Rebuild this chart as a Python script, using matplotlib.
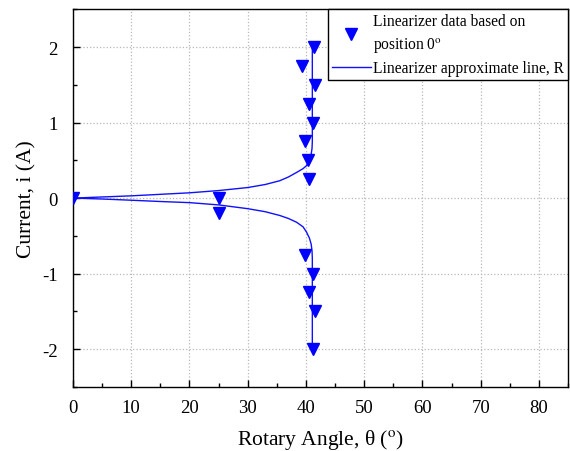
import matplotlib
matplotlib.use("Agg")
import matplotlib.pyplot as plt
from matplotlib.ticker import MultipleLocator

plt.rcParams['font.family'] = ['Liberation Serif', 'DejaVu Serif']
plt.rcParams['mathtext.fontset'] = 'stix'
plt.rcParams['axes.unicode_minus'] = False

# Measured data (rotary angle in degrees, current in A)
data_angle = [0, 25, 25, 39.3, 41.4, 41.5, 40.5, 41.2, 39.9, 40.4, 40.5,
              39.9, 41.2, 40.5, 41.5, 41.3]
data_current = [0, 0, -0.2, 1.75, 2.0, 1.5, 1.25, 1.0, 0.75, 0.5, 0.25,
                -0.75, -1.0, -1.25, -1.5, -2.0]

# Approximate line, upper branch and lower branch
upper_angle = [0, 5, 10, 15, 20, 25, 30, 33, 35.5, 37, 38.4, 39.5, 40.1, 40.6, 40.9, 41.05, 41.1, 41.1]
upper_current = [0, 0.015, 0.03, 0.05, 0.07, 0.1, 0.14, 0.18, 0.23, 0.28, 0.34, 0.39, 0.43, 0.5, 0.58, 0.66, 0.75, 2.0]
lower_angle = [0, 5, 10, 15, 20, 25, 30, 33, 35.5, 37, 38.4, 39.5, 40.1, 40.6, 40.9, 41.05, 41.1, 41.1]
lower_current = [0, -0.012, -0.028, -0.045, -0.06, -0.09, -0.14, -0.18, -0.23, -0.27, -0.32, -0.38, -0.45, -0.53, -0.61, -0.7, -0.8, -2.0]

fig = plt.figure(figsize=(5.7, 4.52), dpi=100)
ax = fig.add_axes([0.128, 0.142, 0.8685, 0.835])

line_kw = dict(color='#1010ff', lw=1.0)
ax.plot(upper_angle, upper_current, label='Linearizer approximate line, R', zorder=2, **line_kw)
ax.plot(lower_angle, lower_current, zorder=2, **line_kw)
ax.plot(data_angle, data_current, linestyle='none', marker='v', markersize=8,
        color='#0000ff', label='Linearizer data based on\nposition 0$^{\\mathrm{o}}$', zorder=3)

ax.set_xlim(0, 85)
ax.set_ylim(-2.5, 2.5)
ax.xaxis.set_major_locator(MultipleLocator(10))
ax.xaxis.set_minor_locator(MultipleLocator(5))
ax.yaxis.set_major_locator(MultipleLocator(1))
ax.yaxis.set_minor_locator(MultipleLocator(0.5))
ax.tick_params(which='both', direction='in', labelsize=13.5, top=False, right=False)
ax.tick_params(which='major', length=5, width=1)
ax.tick_params(axis='x', which='major', pad=9)
ax.tick_params(axis='y', which='major', pad=11)
ax.tick_params(which='minor', length=3, width=1)
ax.grid(True, which='major', linestyle=':', color='#b8b8b8', lw=0.9)
ax.set_axisbelow(True)
for s in ax.spines.values():
    s.set_linewidth(1.0)

ax.set_xlabel('Rotary Angle, θ ($^{\\mathrm{o}}$)', fontsize=15.5, labelpad=8)
ax.set_ylabel('Current, i (A)', fontsize=15.5, labelpad=4)

handles, labels = ax.get_legend_handles_labels()
leg = ax.legend([handles[1], handles[0]], [labels[1], labels[0]], loc='upper right',
                bbox_to_anchor=(1.0, 1.0), fontsize=11.2, fancybox=False, framealpha=1,
                edgecolor='black', handlelength=2.5, handletextpad=0.15, borderpad=0.25,
                labelspacing=0.4, borderaxespad=0.0)
leg.get_frame().set_linewidth(1.0)
for t in leg.get_texts():
    t.set_linespacing(1.45)

fig.savefig('out.png', dpi=100)
